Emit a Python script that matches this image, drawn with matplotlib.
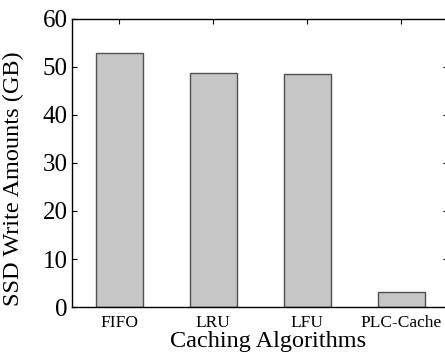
import numpy as np
from matplotlib import pyplot as plt

# ====
# Data
algorithms = ["FIFO", "LRU", "LFU", "PLC-Cache"]
write_amounts = [53.0, 48.8, 48.6, 3.1]
y_ticks = [0, 10, 20, 30, 40, 50, 60]

plt.rcParams["font.family"] = ["Liberation Serif", "DejaVu Serif"]

fig = plt.figure(figsize=(4.45, 3.53), dpi=100)
# axes run slightly past the right edge, as in the cropped original
ax = fig.add_axes([0.1618, 0.1303, 0.845, 0.8159])

pos = np.arange(1, len(algorithms) + 1)
ax.bar(pos, write_amounts, width=0.5, color="#c6c6c6",
       edgecolor="#505050", linewidth=1.0, zorder=2)

ax.set_xlim(0.5, 4.5)
ax.set_ylim(0, 60)
ax.set_xticks(pos)
ax.set_xticklabels(algorithms, fontsize=12.5)
ax.set_yticks(y_ticks)
ax.tick_params(axis="y", labelsize=18, direction="in", length=3.8,
               width=0.8, right=True, pad=3)
ax.tick_params(axis="x", direction="in", length=3.8, width=0.8,
               top=True, pad=6)

for spine in ax.spines.values():
    spine.set_linewidth(1.0)

ax.set_xlabel("Caching Algorithms", fontsize=17.5)
ax.set_ylabel("SSD Write Amounts (GB)", fontsize=17.5)
ax.xaxis.set_label_coords(0.522, -0.082)
ax.yaxis.set_label_coords(-0.128, 0.444)

fig.savefig("out.png", dpi=100)
